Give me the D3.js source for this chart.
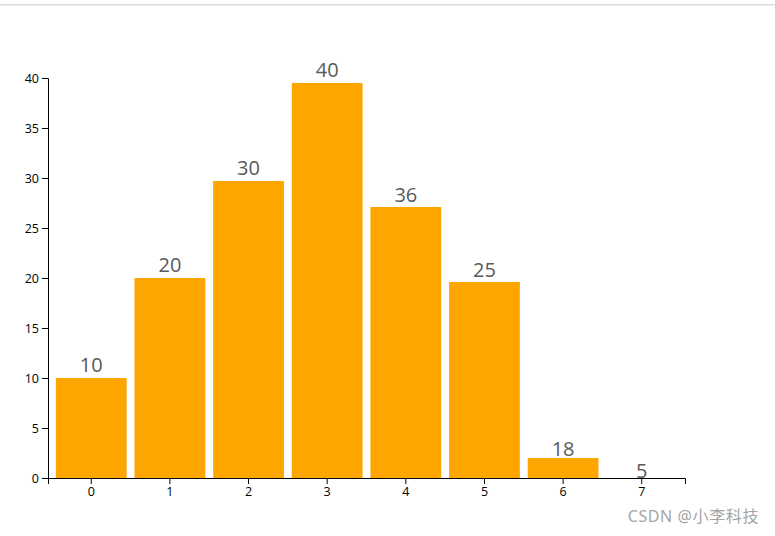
<!DOCTYPE html>
<html>
<head>
<meta charset="utf-8">
<script src="https://cdn.jsdelivr.net/npm/d3@7"></script>
<style>
  html, body { margin: 0; padding: 0; background: #fff; }
  svg { display: block; }
</style>
</head>
<body>
<svg id="chart" width="775" height="536"></svg>
<script>
// ---- data ----
const categories = [0, 1, 2, 3, 4, 5, 6, 7];
const labelValues = [10, 20, 30, 40, 36, 25, 18, 5];          // text printed on bars
const barHeights = [10, 20, 29.7, 39.5, 27.1, 19.6, 2.0, 0];   // bar heights as drawn (mid-transition)
const labelLevels = [10.63, 20.63, 30.3, 40.13, 27.63, 20.13, 2.2, 0]; // label baselines (data units)
const yTicks = [0, 5, 10, 15, 20, 25, 30, 35, 40];

const svg = d3.select("#chart");

// top page separator
svg.append("rect").attr("x", 0).attr("y", 4).attr("width", 775).attr("height", 1.5).attr("fill", "#dcdcdc");

const margin = { left: 48, top: 78 };
const width = 637, height = 400;
const g = svg.append("g").attr("transform", `translate(${margin.left},${margin.top})`);

const x = d3.scaleBand().domain(categories).range([0, width]).padding(0.1);
const y = d3.scaleLinear().domain([0, 40]).range([height, 0]);

g.selectAll("rect.bar").data(categories).join("rect")
  .attr("class", "bar")
  .attr("x", d => x(d))
  .attr("width", x.bandwidth())
  .attr("y", (d, i) => y(barHeights[i]))
  .attr("height", (d, i) => height - y(barHeights[i]))
  .attr("fill", "#FFA500");

g.selectAll("text.lbl").data(categories).join("text")
  .attr("class", "lbl")
  .attr("x", d => x(d) + x.bandwidth() / 2)
  .attr("y", (d, i) => y(labelLevels[i]))
  .attr("text-anchor", "middle")
  .attr("font-family", "'Open Sans', 'Noto Sans', sans-serif")
  .attr("font-size", 20)
  .attr("fill", "#595959")
  .text((d, i) => labelValues[i]);

const xAxis = g.append("g").attr("transform", `translate(0,${height})`).call(d3.axisBottom(x));
const yAxis = g.append("g").call(d3.axisLeft(y).tickValues(yTicks));
[xAxis, yAxis].forEach(a => a.selectAll("text")
  .attr("font-family", "'Open Sans', 'Noto Sans', sans-serif")
  .attr("font-size", 12.5)
  .attr("fill", "#000"));

// watermark
svg.append("text")
  .attr("x", 759).attr("y", 522)
  .attr("text-anchor", "end")
  .attr("font-family", "'Noto Sans', 'Noto Sans CJK SC', sans-serif")
  .attr("font-size", 16)
  .attr("letter-spacing", 0.6)
  .attr("fill", "#a6a6a6")
  .text("CSDN @小李科技");
</script>
</body>
</html>
